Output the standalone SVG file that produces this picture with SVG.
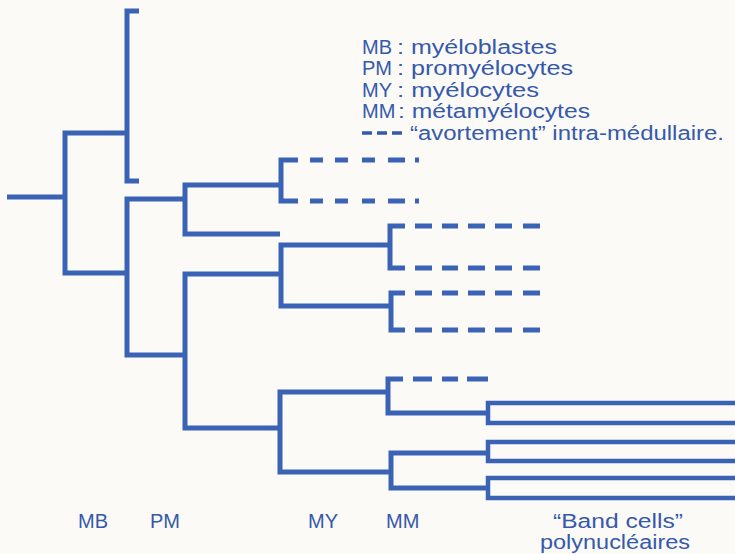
<svg xmlns="http://www.w3.org/2000/svg" width="735" height="554" viewBox="0 0 735 554">
<style>
.ln{fill:none;stroke:#3a63b6;stroke-width:5;stroke-linejoin:miter;stroke-linecap:butt}
.bd{stroke-width:4.5}
.tx{font-family:"Liberation Sans",Arial,sans-serif;font-size:20px;fill:#3559ab}
</style>
<rect width="735" height="554" fill="#fbfaf6"/>
<g id="connectors" class="ln">
<path d="M7,197H65"/>
<path d="M127,133H65V273H127"/>
<path d="M139,11H127V181H139"/>
<path d="M185,199H127V355H185"/>
<path d="M281,185H185V234H280"/>
<path d="M298,160H281V201H298"/>
<path d="M310,160H323M335,160H348M362,160H375M388,160H405M415,160H419"/>
<path d="M310,201H323M335,201H348M362,201H375M388,201H405M415,201H419"/>
<path d="M280,274H185V428H280"/>
<path d="M389,245H281V306H390"/>
<path d="M405,226H390V268H405"/>
<path d="M415,226H432M442,226H458M468,226H485M495,226H512M523,226H540"/>
<path d="M415,268H432M442,268H458M468,268H485M495,268H512M523,268H540"/>
<path d="M405,293H391V330H405"/>
<path d="M415,293H432M442,293H458M468,293H485M495,293H512M523,293H540"/>
<path d="M415,330H432M442,330H458M468,330H485M495,330H512M523,330H540"/>
<path d="M388,392H280V472H391"/>
<path d="M403,379H388V413H488"/>
<path d="M413,379H432M442,379H458M467,379H488"/>
<path class="bd" d="M735,403H488V423H735"/>
<path d="M488,453H391V488H488"/>
<path class="bd" d="M735,442H488V461H735"/>
<path class="bd" d="M735,478H488V498H735"/>
</g>
<g id="legend" class="tx">
<text x="362" y="54">MB</text><text x="397" y="54" textLength="160" lengthAdjust="spacingAndGlyphs">: myéloblastes</text>
<text x="362" y="75">PM</text><text x="397" y="75" textLength="176" lengthAdjust="spacingAndGlyphs">: promyélocytes</text>
<text x="362" y="97">MY</text><text x="397" y="97" textLength="142" lengthAdjust="spacingAndGlyphs">: myélocytes</text>
<text x="362" y="118">MM</text><text x="398" y="118" textLength="192" lengthAdjust="spacingAndGlyphs">: métamyélocytes</text>
<path d="M362,133H403" fill="none" stroke="#3559ab" stroke-width="3.5" stroke-dasharray="10 5"/>
<text x="410" y="140" textLength="314" lengthAdjust="spacingAndGlyphs">“avortement” intra-médullaire.</text>
</g>
<g id="label-MB" class="tx"><text x="78" y="528">MB</text></g>
<g id="label-PM" class="tx"><text x="150" y="528">PM</text></g>
<g id="label-MY" class="tx"><text x="308" y="528">MY</text></g>
<g id="label-MM" class="tx"><text x="386" y="528">MM</text></g>
<g id="label-band" class="tx">
<text x="618" y="528" text-anchor="middle" textLength="130" lengthAdjust="spacingAndGlyphs">“Band cells”</text>
<text x="615" y="549" text-anchor="middle" textLength="150" lengthAdjust="spacingAndGlyphs">polynucléaires</text>
</g>
</svg>
